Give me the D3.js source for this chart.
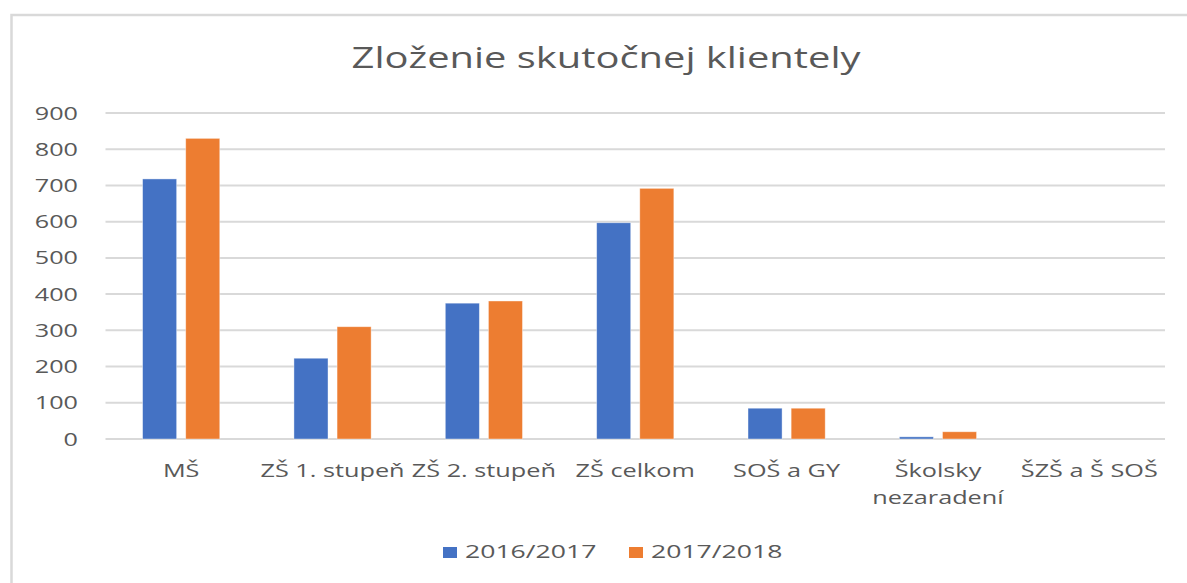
<!DOCTYPE html>
<html>
<head>
<meta charset="utf-8">
<script src="https://cdn.jsdelivr.net/npm/d3@7"></script>
<style>
  body { margin: 0; background: #fff; }
  text { font-family: "Open Sans", sans-serif; fill: #595959; }
</style>
</head>
<body>
<script>
var categories = ["MŠ", "ZŠ 1. stupeň", "ZŠ 2. stupeň", "ZŠ celkom", "SOŠ a GY", "Školsky nezaradení", "ŠZŠ a Š SOŠ"];
var seriesNames = ["2016/2017", "2017/2018"];
var values2016 = [718, 223, 375, 597, 85, 6, 0];
var values2017 = [830, 310, 381, 692, 85, 20, 0];
var yTicks = [0, 100, 200, 300, 400, 500, 600, 700, 800, 900];
var colors = ["#4472c4", "#ed7d31"];

var W = 1187, H = 583;
// text in the picture is stretched sideways
var sx = 1.4;

var svg = d3.select("body").append("svg")
  .attr("width", W)
  .attr("height", H);

// chart frame
svg.append("rect")
  .attr("x", 11.5)
  .attr("y", 15)
  .attr("width", 1200)
  .attr("height", 600)
  .attr("fill", "#fff")
  .attr("stroke", "#d9d9d9")
  .attr("stroke-width", 2.5);

function stretchedText(x, y, str, size, anchor, k) {
  var g = svg.append("g")
    .attr("transform", "translate(" + x + "," + y + ") scale(" + (k || sx) + ",1)");
  return g.append("text")
    .attr("text-anchor", anchor || "middle")
    .attr("font-size", size)
    .text(str);
}

stretchedText(606, 68, "Zloženie skutočnej klientely", 28.5);

var plot = { left: 105.5, right: 1165, top: 113, bottom: 439 };

var x0 = d3.scaleBand()
  .domain(categories)
  .range([plot.left, plot.right])
  .paddingInner(0.49)
  .paddingOuter(0.245);

var x1 = d3.scaleBand()
  .domain(seriesNames)
  .range([0, x0.bandwidth()])
  .paddingInner(0.21);

var y = d3.scaleLinear()
  .domain([0, 900])
  .range([plot.bottom, plot.top]);

// gridlines
svg.selectAll(".grid")
  .data(yTicks)
  .enter().append("line")
  .attr("x1", plot.left)
  .attr("x2", plot.right)
  .attr("y1", function (d) { return y(d); })
  .attr("y2", function (d) { return y(d); })
  .attr("stroke", "#d9d9d9")
  .attr("stroke-width", 2);

// y labels
yTicks.forEach(function (t) {
  stretchedText(78, y(t) + 6.5, t, 18, "end");
});

// bars
var series = [values2016, values2017];
series.forEach(function (vals, si) {
  svg.selectAll(".bar" + si)
    .data(categories)
    .enter().append("rect")
    .attr("x", function (d) { return x0(d) + x1(seriesNames[si]); })
    .attr("y", function (d, i) { return y(vals[i]); })
    .attr("width", x1.bandwidth())
    .attr("height", function (d, i) { return y(0) - y(vals[i]); })
    .attr("fill", colors[si])
    .attr("stroke", "#fff")
    .attr("stroke-opacity", 0.5)
    .attr("stroke-width", 0.8);
});

// category labels, wrapped when wider than the band step
var step = x0.step();
categories.forEach(function (c) {
  var cx = x0(c) + x0.bandwidth() / 2;
  var t = stretchedText(cx, 477, c, 19, "middle", 1.33);
  if (t.node().getComputedTextLength() * 1.33 > step * 1.1) {
    var words = c.split(" ");
    t.text(words[0]);
    t.append("tspan").attr("x", 0).attr("dy", 27).text(words.slice(1).join(" "));
  }
});

// legend
var legendX = [443, 629];
seriesNames.forEach(function (s, i) {
  svg.append("rect")
    .attr("x", legendX[i])
    .attr("y", 547)
    .attr("width", 14)
    .attr("height", 11)
    .attr("fill", colors[i]);
  stretchedText(legendX[i] + 22, 558, s, 19, "start");
});
</script>
</body>
</html>
